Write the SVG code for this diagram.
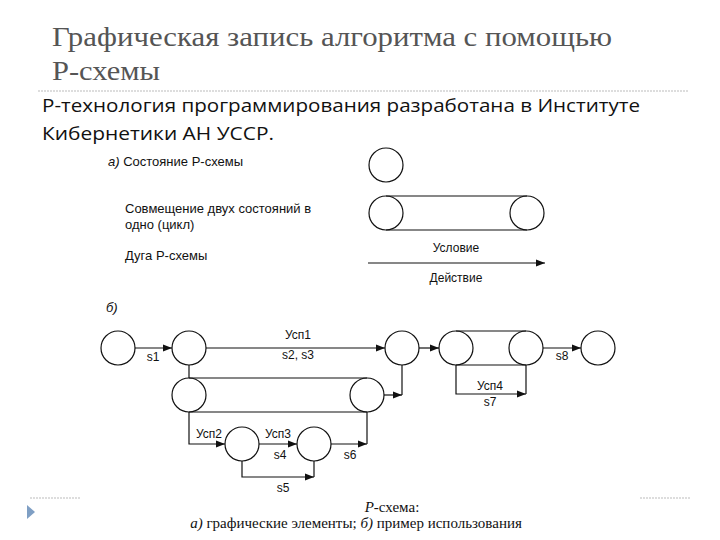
<svg xmlns="http://www.w3.org/2000/svg" width="720" height="540" viewBox="0 0 720 540">
<style>
.c{fill:none;stroke:#111;stroke-width:1.2}
.l{fill:none;stroke:#111;stroke-width:1.2}
.a{fill:none;stroke:#111;stroke-width:1.2;marker-end:url(#ah)}
.h{font-family:"Liberation Serif","Times New Roman",serif;font-size:28px;fill:#555}
.b{font-family:"Open Sans","Liberation Sans",sans-serif;font-size:19px;fill:#111}
.t{font-family:"Liberation Sans",Arial,sans-serif;font-size:13px;fill:#111}
.m{font-family:"Liberation Sans",Arial,sans-serif;font-size:12px;fill:#111;text-anchor:middle}
.cap{font-family:"Liberation Serif","Times New Roman",serif;font-size:15px;fill:#111;text-anchor:middle}
</style>
<defs>
<marker id="ah" viewBox="0 0 10 10" refX="10" refY="5" markerWidth="9" markerHeight="9" markerUnits="userSpaceOnUse" orient="auto"><path d="M0,1 L10,5 L0,9 z" fill="#111"/></marker>
</defs>
<rect width="720" height="540" fill="#fff"/>
<g id="header">
<text class="h" x="52" y="46" textLength="560" lengthAdjust="spacingAndGlyphs">Графическая запись алгоритма с помощью</text>
<text class="h" x="52" y="80" textLength="108" lengthAdjust="spacingAndGlyphs">Р-схемы</text>
<line x1="38" y1="91" x2="688" y2="91" stroke="#bbb" stroke-dasharray="2,1"/>
<text class="b" x="42" y="112" textLength="598" lengthAdjust="spacingAndGlyphs">Р-технология программирования разработана в Институте</text>
<text class="b" x="42" y="140" textLength="232" lengthAdjust="spacingAndGlyphs">Кибернетики АН УССР.</text>
</g>
<g id="legend">
<text class="t" x="108" y="166"><tspan font-style="italic">а)</tspan> Состояние Р-схемы</text>
<text class="t" x="125" y="213">Совмещение двух состояний в</text>
<text class="t" x="125" y="229">одно (цикл)</text>
<text class="t" x="125" y="260">Дуга Р-схемы</text>
<circle class="c" cx="386" cy="165" r="17"/>
<circle class="c" cx="386" cy="213" r="17"/>
<circle class="c" cx="527" cy="213" r="17"/>
<line class="l" x1="386" y1="196" x2="527" y2="196"/>
<line class="l" x1="386" y1="230" x2="527" y2="230"/>
<line class="a" x1="368" y1="263" x2="545" y2="263"/>
<text class="m" x="456" y="252" font-size="13">Условие</text>
<text class="m" x="456" y="282" font-size="13">Действие</text>
</g>
<text class="t" x="106" y="312" font-style="italic">б)</text>
<g id="nodes">
<circle id="c0" class="c" cx="118" cy="348" r="17"/>
<circle id="c1" class="c" cx="189" cy="348" r="17"/>
<circle id="c2" class="c" cx="402" cy="348" r="17"/>
<circle id="c3" class="c" cx="456" cy="348" r="17"/>
<circle id="c4" class="c" cx="526" cy="348" r="17"/>
<circle id="c9" class="c" cx="598" cy="348" r="17"/>
<circle id="c5" class="c" cx="189" cy="395" r="17"/>
<circle id="c6" class="c" cx="367" cy="395" r="17"/>
<circle id="c7" class="c" cx="242" cy="444" r="17"/>
<circle id="c8" class="c" cx="314" cy="444" r="17"/>
</g>
<g id="connectors">
<line class="l" x1="456" y1="331" x2="526" y2="331"/>
<line class="l" x1="456" y1="365" x2="526" y2="365"/>
<line class="l" x1="189" y1="378" x2="367" y2="378"/>
<line class="l" x1="189" y1="412" x2="367" y2="412"/>
<line class="a" x1="135" y1="348" x2="172" y2="348"/>
<line class="a" x1="206" y1="348" x2="385" y2="348"/>
<line class="a" x1="419" y1="348" x2="439" y2="348"/>
<line class="a" x1="543" y1="348" x2="581" y2="348"/>
<polyline class="a" points="456,365 456,394 526,394"/>
<line class="l" x1="526" y1="365" x2="526" y2="394"/>
<line class="l" x1="189" y1="365" x2="189" y2="378"/>
<line class="l" x1="402" y1="365" x2="402" y2="395"/>
<line class="a" x1="384" y1="395" x2="402" y2="395"/>
<polyline class="a" points="189,412 189,444 225,444"/>
<line class="a" x1="259" y1="444" x2="297" y2="444"/>
<polyline class="a" points="331,444 367,444"/>
<line class="l" x1="367" y1="412" x2="367" y2="444"/>
<polyline class="a" points="242,461 242,477 314,477"/>
<line class="l" x1="314" y1="461" x2="314" y2="477"/>
<text class="m" x="153" y="361">s1</text>
<text class="m" x="298" y="339">Усп1</text>
<text class="m" x="298" y="359">s2, s3</text>
<text class="m" x="562" y="360">s8</text>
<text class="m" x="490" y="390">Усп4</text>
<text class="m" x="490" y="406">s7</text>
<text class="m" x="209" y="438">Усп2</text>
<text class="m" x="278" y="438">Усп3</text>
<text class="m" x="280" y="459">s4</text>
<text class="m" x="350" y="459">s6</text>
<text class="m" x="283" y="492">s5</text>
</g>
<g id="footer">
<line x1="30" y1="498" x2="80" y2="498" stroke="#bbb" stroke-dasharray="2,1"/>
<line x1="640" y1="498" x2="690" y2="498" stroke="#bbb" stroke-dasharray="2,1"/>
<path d="M27,505 L35,512 L27,519 z" fill="#7f9fc4"/>
<text class="cap" x="392" y="512"><tspan font-style="italic">Р</tspan>-схема:</text>
<text class="cap" x="356" y="528"><tspan font-style="italic">а)</tspan> графические элементы; <tspan font-style="italic">б)</tspan> пример использования</text>
</g>
</svg>
